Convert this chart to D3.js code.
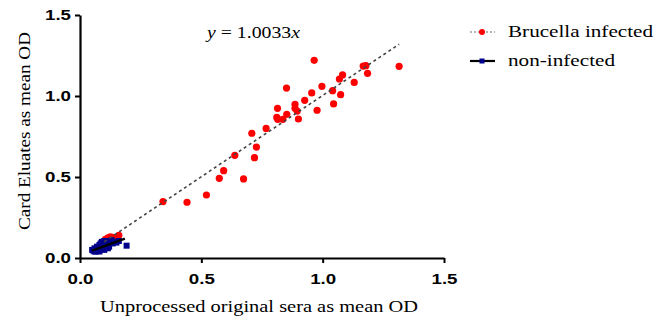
<!DOCTYPE html>
<html><head><meta charset="utf-8">
<script src="https://cdn.jsdelivr.net/npm/d3@7/dist/d3.min.js"></script>
<style>body{margin:0;background:#fff}</style>
</head><body><svg id="c" width="666" height="321"></svg>
<script>
const infectedX = [0.342,0.441,0.521,0.574,0.592,0.638,0.674,0.708,0.719,0.727,0.767,0.814,0.811,0.815,0.836,0.851,0.852,0.886,0.886,0.895,0.900,0.926,0.955,0.965,0.977,0.997,1.041,1.045,1.069,1.074,1.082,1.130,1.167,1.178,1.185,1.315,
  0.105,0.115,0.125,0.135,0.145,0.160,0.130];
const infectedY = [0.348,0.344,0.389,0.492,0.539,0.634,0.488,0.770,0.619,0.685,0.800,0.924,0.868,0.856,0.856,1.049,0.887,0.949,0.924,0.907,0.858,0.973,1.019,1.220,0.912,1.060,1.033,0.951,1.105,1.008,1.130,1.084,1.185,1.187,1.140,1.183,
  0.115,0.125,0.130,0.128,0.122,0.140,0.118];
const nonX = [0.050,0.055,0.060,0.060,0.065,0.070,0.070,0.075,0.080,0.080,0.085,0.085,0.090,0.090,0.095,0.095,0.100,0.100,0.105,0.105,0.110,0.110,0.115,0.120,0.120,0.125,0.130,0.135,0.140,0.150,0.160,0.192,0.065,0.080,0.100,0.115];
const nonY = [0.050,0.045,0.060,0.040,0.055,0.070,0.045,0.060,0.080,0.050,0.090,0.065,0.075,0.100,0.060,0.095,0.085,0.105,0.070,0.100,0.090,0.105,0.080,0.100,0.070,0.095,0.110,0.090,0.100,0.095,0.105,0.076,0.040,0.040,0.050,0.060];
const fitInfected = {slope:1.0033, x0:0.10, x1:1.315};
const fitNon = {x:[0.05,0.185], y:[0.045,0.120]};
const ticks = [0,0.5,1.0,1.5];
const tickLabels = ["0.0","0.5","1.0","1.5"];

const serif = "Liberation Serif, Times New Roman, serif";
const svg = d3.select("#c");
const x = d3.scaleLinear().domain([0,1.5]).range([80,444]);
const y = d3.scaleLinear().domain([0,1.5]).range([258,15]);

const xa = svg.append("g").attr("transform","translate(0,258)")
  .call(d3.axisBottom(x).tickValues(ticks).tickFormat((d,i)=>tickLabels[i]).tickSize(5).tickSizeOuter(0));
const ya = svg.append("g").attr("transform","translate(80,0)")
  .call(d3.axisLeft(y).tickValues(ticks).tickFormat((d,i)=>tickLabels[i]).tickSize(5).tickSizeOuter(0));
[xa,ya].forEach(a=>{
  a.select(".domain").attr("stroke","#000").attr("stroke-width",2.2);
  a.selectAll(".tick line").attr("stroke","#000").attr("stroke-width",2);
  a.selectAll(".tick text").attr("fill","#000").style("font-family","Liberation Sans, Arial, sans-serif").style("font-weight","bold").style("font-size","14px")
    .attr("textLength",26).attr("lengthAdjust","spacingAndGlyphs");
});
xa.selectAll(".tick text").attr("dy","1.25em");
ya.selectAll(".tick text").attr("dx","-1px");

// points
const inf = infectedX.map((d,i)=>[d,infectedY[i]]);
const non = nonX.map((d,i)=>[d,nonY[i]]);
svg.append("g").selectAll("circle").data(inf).join("circle")
  .attr("cx",d=>x(d[0])).attr("cy",d=>y(d[1])).attr("r",3.6).attr("fill","#ff0000");
svg.append("g").selectAll("rect").data(non).join("rect")
  .attr("x",d=>x(d[0])-3).attr("y",d=>y(d[1])-3).attr("width",6).attr("height",6).attr("fill","#00008b");

// fit lines
svg.append("line").attr("x1",x(fitInfected.x0)).attr("y1",y(fitInfected.x0*fitInfected.slope))
  .attr("x2",x(fitInfected.x1)).attr("y2",y(fitInfected.x1*fitInfected.slope))
  .attr("stroke","#444").attr("stroke-width",1.6).attr("stroke-dasharray","3,3");
svg.append("line").attr("x1",x(fitNon.x[0])).attr("y1",y(fitNon.y[0]))
  .attr("x2",x(fitNon.x[1])).attr("y2",y(fitNon.y[1]))
  .attr("stroke","#000").attr("stroke-width",2.4);

function stretched(sel, len){ return sel.attr("textLength",len).attr("lengthAdjust","spacingAndGlyphs"); }

// equation
const eq = svg.append("text").attr("x",207).attr("y",38).style("font-family",serif).style("font-size","17px").attr("fill","#000");
stretched(eq, 93);
eq.append("tspan").style("font-style","italic").text("y");
eq.append("tspan").text(" = 1.0033");
eq.append("tspan").style("font-style","italic").text("x");

// titles
stretched(svg.append("text").attr("x",100).attr("y",312)
  .style("font-family",serif).style("font-size","17px").text("Unprocessed original sera as mean OD"), 318);
stretched(svg.append("text").attr("transform","translate(30,230) rotate(-90)")
  .style("font-family",serif).style("font-size","17px").text("Card Eluates as mean OD"), 198);

// legend
const lg = svg.append("g");
lg.append("line").attr("x1",470).attr("x2",495).attr("y1",32).attr("y2",32).attr("stroke","#666").attr("stroke-width",1).attr("stroke-dasharray","2,2");
lg.append("circle").attr("cx",482).attr("cy",32).attr("r",3).attr("fill","#ff0000");
stretched(lg.append("text").attr("x",508).attr("y",37).style("font-family",serif).style("font-size","17px").text("Brucella infected"), 145);
lg.append("line").attr("x1",470).attr("x2",495).attr("y1",61).attr("y2",61).attr("stroke","#000").attr("stroke-width",2.2);
lg.append("rect").attr("x",479.5).attr("y",58.5).attr("width",5).attr("height",5).attr("fill","#00008b");
stretched(lg.append("text").attr("x",508).attr("y",66).style("font-family",serif).style("font-size","17px").text("non-infected"), 107);
</script></body></html>
